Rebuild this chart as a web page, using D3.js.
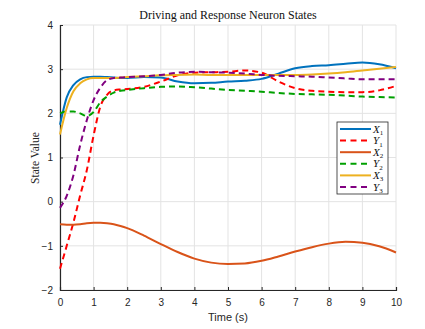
<!DOCTYPE html>
<html>
<head>
<meta charset="utf-8">
<script src="https://cdn.jsdelivr.net/npm/d3@7"></script>
<style>
  body { margin: 0; background: #fff; }
  svg { display: block; }
</style>
</head>
<body>
<div id="viz"></div>
<script>
// sample times (s)
const time = [0, 0.2, 0.4, 0.6, 0.8, 1, 1.2, 1.4, 1.6, 1.8, 2, 2.5, 3, 3.5, 4, 4.5, 5, 5.5, 6, 6.5, 7, 7.5, 8, 8.5, 9, 9.5, 10];

const x1 = [1.74, 2.36, 2.64, 2.77, 2.82, 2.83, 2.83, 2.82, 2.81, 2.8, 2.8, 2.82, 2.81, 2.72, 2.68, 2.69, 2.72, 2.74, 2.78, 2.9, 3.02, 3.07, 3.09, 3.12, 3.15, 3.11, 3.02];
const y1 = [-1.52, -1.0, -0.47, 0.14, 0.72, 1.5, 2.15, 2.42, 2.52, 2.54, 2.55, 2.6, 2.72, 2.86, 2.92, 2.93, 2.94, 2.97, 2.92, 2.72, 2.57, 2.51, 2.49, 2.48, 2.48, 2.52, 2.62];
const x2 = [-0.51, -0.52, -0.52, -0.51, -0.49, -0.48, -0.48, -0.49, -0.51, -0.55, -0.6, -0.77, -0.96, -1.14, -1.29, -1.38, -1.41, -1.4, -1.34, -1.24, -1.13, -1.03, -0.95, -0.91, -0.93, -1.01, -1.15];
const y2 = [2.0, 2.04, 2.04, 2.0, 1.94, 2.03, 2.25, 2.38, 2.47, 2.51, 2.53, 2.57, 2.6, 2.61, 2.59, 2.56, 2.53, 2.51, 2.49, 2.46, 2.44, 2.43, 2.42, 2.4, 2.38, 2.37, 2.36];
const x3 = [1.52, 2.12, 2.5, 2.68, 2.77, 2.8, 2.8, 2.8, 2.8, 2.81, 2.82, 2.84, 2.86, 2.87, 2.88, 2.87, 2.87, 2.87, 2.87, 2.87, 2.87, 2.88, 2.9, 2.93, 2.97, 3.01, 3.05];
const y3 = [-0.14, 0.13, 0.6, 1.28, 1.85, 2.3, 2.58, 2.75, 2.8, 2.81, 2.82, 2.84, 2.87, 2.92, 2.94, 2.93, 2.92, 2.9, 2.87, 2.85, 2.84, 2.83, 2.81, 2.79, 2.77, 2.77, 2.77];

const seriesNames = ["X1", "Y1", "X2", "Y2", "X3", "Y3"];
const seriesValues = [x1, y1, x2, y2, x3, y3];
const seriesColors = ["#0072BD", "#FF0000", "#D95319", "#00A000", "#EDB120", "#800080"];
const seriesDashed = [false, true, false, true, false, true];

const xTicks = [0, 1, 2, 3, 4, 5, 6, 7, 8, 9, 10];
const yTicks = [-2, -1, 0, 1, 2, 3, 4];

const width = 425;
const height = 329;
const margin = { left: 60, right: 29, top: 25, bottom: 39 };

const svg = d3.select("#viz").append("svg")
    .attr("width", width)
    .attr("height", height);

const x = d3.scaleLinear().domain([0, 10]).range([margin.left, width - margin.right]);
const y = d3.scaleLinear().domain([-2, 4]).range([height - margin.bottom, margin.top]);

// grid
svg.append("g")
    .selectAll("line")
    .data(xTicks)
    .join("line")
    .attr("x1", d => x(d)).attr("x2", d => x(d))
    .attr("y1", y(-2)).attr("y2", y(4))
    .attr("stroke", "#e3e3e3").attr("stroke-width", 1);

svg.append("g")
    .selectAll("line")
    .data(yTicks)
    .join("line")
    .attr("x1", x(0)).attr("x2", x(10))
    .attr("y1", d => y(d)).attr("y2", d => y(d))
    .attr("stroke", "#e3e3e3").attr("stroke-width", 1);

// axes
const xAxis = svg.append("g")
    .attr("transform", `translate(0,${y(-2)})`)
    .call(d3.axisBottom(x).tickValues(xTicks).tickSize(-3).tickPadding(9).tickFormat(d3.format("d")));

const yAxis = svg.append("g")
    .attr("transform", `translate(${x(0)},0)`)
    .call(d3.axisLeft(y).tickValues(yTicks).tickSize(-3).tickPadding(7).tickFormat(d3.format("d")));

[xAxis, yAxis].forEach(a => {
  a.select(".domain").attr("stroke", "#262626").attr("stroke-width", 1.2);
  a.selectAll(".tick line").attr("stroke", "#262626");
  a.selectAll(".tick text")
      .attr("fill", "#262626")
      .style("font-family", "Liberation Sans, Arial, sans-serif")
      .style("font-size", "10px");
});

// lines
const line = d3.line()
    .x((d, i) => x(time[i]))
    .y(d => y(d))
    .curve(d3.curveMonotoneX);

svg.append("g")
    .selectAll("path")
    .data(seriesValues)
    .join("path")
    .attr("d", d => line(d))
    .attr("fill", "none")
    .attr("stroke", (d, i) => seriesColors[i])
    .attr("stroke-width", 2)
    .attr("stroke-dasharray", (d, i) => seriesDashed[i] ? "6,4" : null);

// title and labels
svg.append("text")
    .attr("x", 228).attr("y", 19)
    .attr("text-anchor", "middle")
    .style("font-family", "Liberation Serif, Times New Roman, serif")
    .style("font-size", "12px")
    .attr("fill", "#111")
    .text("Driving and Response Neuron States");

svg.append("text")
    .attr("x", 228).attr("y", 321)
    .attr("text-anchor", "middle")
    .style("font-family", "Liberation Sans, Arial, sans-serif")
    .style("font-size", "11px")
    .attr("fill", "#262626")
    .text("Time (s)");

svg.append("text")
    .attr("transform", "translate(39,158) rotate(-90)")
    .attr("text-anchor", "middle")
    .style("font-family", "Liberation Serif, Times New Roman, serif")
    .style("font-size", "11.5px")
    .attr("fill", "#262626")
    .text("State Value");

// legend
const legend = svg.append("g").attr("transform", "translate(337,122)");
legend.append("rect")
    .attr("width", 51).attr("height", 72)
    .attr("fill", "#fff")
    .attr("stroke", "#262626").attr("stroke-width", 0.8);

const rows = legend.selectAll("g.row")
    .data(seriesNames)
    .join("g")
    .attr("class", "row")
    .attr("transform", (d, i) => `translate(0,${7 + i * 11.6})`);

rows.append("line")
    .attr("x1", 3).attr("x2", 34)
    .attr("stroke", (d, i) => seriesColors[i])
    .attr("stroke-width", 2)
    .attr("stroke-dasharray", (d, i) => seriesDashed[i] ? "6,4.5" : null);

const lbl = rows.append("text")
    .attr("x", 36).attr("y", 3.5)
    .style("font-family", "Liberation Serif, Times New Roman, serif")
    .style("font-size", "11px")
    .attr("fill", "#111");
lbl.append("tspan").style("font-style", "italic").text(d => d[0] === "X" ? "X" : "Y");
lbl.append("tspan").attr("dy", 2.5).style("font-size", "7px").text(d => d[1]);
</script>
</body>
</html>
